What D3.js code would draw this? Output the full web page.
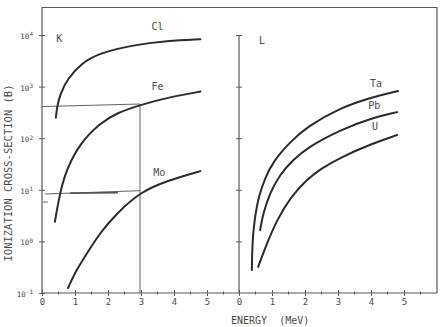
<!DOCTYPE html>
<html>
<head>
<meta charset="utf-8">
<script src="https://cdn.jsdelivr.net/npm/d3@7"></script>
<style>
  body { margin: 0; background: #fff; }
  svg { display: block; }
</style>
</head>
<body>
<div id="chart"></div>
<script>
// K-shell curves (left panel): energy in MeV, cross-section in barns
const clEnergy = [0.42, 0.46, 0.55, 0.76, 1.24, 1.76, 2.76, 3.79, 4.8];
const clSigma  = [250, 420, 700, 1400, 3000, 4500, 6400, 7700, 8300];
const feEnergy = [0.39, 0.5, 0.6, 0.76, 1.15, 1.76, 2.27, 2.97, 3.79, 4.8];
const feSigma  = [2.4, 6, 12, 26, 80, 196, 310, 440, 610, 800];
const moEnergy = [0.79, 1.0, 1.24, 1.76, 2.27, 2.97, 3.79, 4.8];
const moSigma  = [0.125, 0.25, 0.44, 1.5, 3.5, 9, 15, 23];

// L-shell curves (right panel)
const taEnergy = [0.39, 0.4, 0.43, 0.5, 0.6, 0.79, 1.03, 1.55, 2.06, 3.06, 4.06, 4.82];
const taSigma  = [0.28, 0.7, 1.5, 3.5, 7.5, 17, 35, 85, 166, 390, 630, 820];
const pbEnergy = [0.64, 0.73, 0.94, 1.24, 1.64, 2.06, 3.06, 4.06, 4.79];
const pbSigma  = [1.66, 3.5, 8.7, 20, 38, 65, 145, 250, 320];
const uEnergy  = [0.58, 0.85, 1.15, 1.55, 2.06, 2.5, 3.06, 4.06, 4.79];
const uSigma   = [0.32, 0.93, 2.6, 7, 16, 26, 42, 80, 115];

// reading lines drawn on the K panel (energy, sigma)
const guideFe  = [[0, 410], [2.97, 460], [2.97, 0.1]];
const guideMo  = [[0.09, 8.3], [2.97, 9.6]];
const guideMo2 = [[0.85, 8.6], [2.3, 8.8]];
const guideMo3 = [[0.03, 5.8], [0.18, 5.8]];

const xTicks = [0, 1, 2, 3, 4, 5];
const xMinor = [0.5, 1.5, 2.5, 3.5, 4.5, 5.5];
const yTicks = [0.1, 1, 10, 100, 1000, 10000];
const yExp   = ["-1", "0", "1", "2", "3", "4"];

// curve names with label anchor (energy, sigma)
const kNames = [["Cl", 3.5, 14300], ["Fe", 3.5, 1020], ["Mo", 3.55, 22]];
const lNames = [["Ta", 4.15, 1170], ["Pb", 4.1, 435], ["U", 4.12, 166]];

const width = 446, height = 327;
const frameTop = 7.5;
const font = "'DejaVu Sans Mono', monospace";
const ink = "#2b2b2b", axisInk = "#5a5a5a", textInk = "#4a4a4a";

const xK = d3.scaleLinear().domain([0, 6]).range([42, 240]);
const xL = d3.scaleLinear().domain([0, 6]).range([239, 437]);
const y = d3.scaleLog().domain([0.1, 10000]).range([293, 35]);

const svg = d3.select("#chart").append("svg")
    .attr("width", width)
    .attr("height", height)
    .attr("viewBox", [0, 0, width, height]);

// frame
svg.append("path")
    .attr("d", `M${xK(0)},${y(0.1)}V${frameTop}H${xL(6)}V${y(0.1)}`)
    .attr("fill", "none")
    .attr("stroke", axisInk)
    .attr("stroke-width", 1.2);

// x axes
function xAxis(g, x) {
  g.attr("transform", `translate(0,${y(0.1)})`)
    .call(d3.axisBottom(x).tickValues(xTicks).tickSize(3).tickFormat(d3.format("d")))
    .call(g => g.select(".domain").remove())
    .call(g => g.selectAll(".tick line").attr("y1", -3).attr("stroke", axisInk))
    .call(g => g.selectAll(".tick text")
        .attr("y", 6)
        .attr("font-family", font)
        .attr("font-size", 9)
        .attr("fill", textInk));
  g.selectAll(".minor")
    .data(xMinor)
    .join("line")
      .attr("class", "minor")
      .attr("x1", d => x(d)).attr("x2", d => x(d))
      .attr("y1", -1.5).attr("y2", 1.5)
      .attr("stroke", axisInk);
}
svg.append("line")
    .attr("x1", xK(0)).attr("x2", xL(6))
    .attr("y1", y(0.1)).attr("y2", y(0.1))
    .attr("stroke", axisInk).attr("stroke-width", 1.2);
svg.append("g").call(xAxis, xK);
svg.append("g").call(xAxis, xL);

// left y axis with labels
const yAxisK = svg.append("g")
    .attr("transform", `translate(${xK(0)},0)`)
    .call(d3.axisLeft(y).tickValues(yTicks).tickSize(3).tickFormat(""))
    .call(g => g.select(".domain").remove())
    .call(g => g.selectAll(".tick line").attr("x1", 3).attr("stroke", axisInk));
yAxisK.selectAll(".tick text").remove();
yAxisK.selectAll(".tick").append("text")
    .attr("x", -9)
    .attr("dy", "0.35em")
    .attr("text-anchor", "end")
    .attr("font-family", font)
    .attr("fill", textInk)
    .each(function(d, i) {
      const t = d3.select(this);
      t.append("tspan").attr("font-size", 7.5).text("10");
      t.append("tspan").attr("font-size", 6).attr("dy", "-0.45em").text(yExp[i]);
    });

// right panel y axis (no labels)
svg.append("line")
    .attr("x1", xL(0)).attr("x2", xL(0))
    .attr("y1", y(0.1)).attr("y2", y(10000))
    .attr("stroke", axisInk).attr("stroke-width", 1.2);
svg.append("g")
    .attr("transform", `translate(${xL(0)},0)`)
    .call(d3.axisRight(y).tickValues(yTicks.slice(1)).tickSize(3).tickFormat(""))
    .call(g => g.select(".domain").remove())
    .call(g => g.selectAll(".tick line").attr("x1", -3).attr("stroke", axisInk));

// guide lines
const guide = d3.line().x(d => xK(d[0])).y(d => y(d[1]));
[guideFe, guideMo, guideMo3].forEach(pts => {
  svg.append("path")
      .attr("d", guide(pts))
      .attr("fill", "none")
      .attr("stroke", "#666")
      .attr("stroke-width", 1);
});
svg.append("path")
    .attr("d", guide(guideMo2))
    .attr("fill", "none")
    .attr("stroke", "#555")
    .attr("stroke-width", 1.8);

// curves
function curve(x, es, vs) {
  const line = d3.line()
      .x(d => x(d[0]))
      .y(d => y(d[1]))
      .curve(d3.curveBasis);
  svg.append("path")
      .attr("d", line(d3.zip(es, vs)))
      .attr("fill", "none")
      .attr("stroke", ink)
      .attr("stroke-width", 2)
      .attr("stroke-linecap", "round");
}
curve(xK, clEnergy, clSigma);
curve(xK, feEnergy, feSigma);
curve(xK, moEnergy, moSigma);
curve(xL, taEnergy, taSigma);
curve(xL, pbEnergy, pbSigma);
curve(xL, uEnergy, uSigma);

// curve names
function names(x, list) {
  svg.append("g").selectAll("text")
    .data(list)
    .join("text")
      .attr("x", d => x(d[1]))
      .attr("y", d => y(d[2]))
      .attr("dy", "0.35em")
      .attr("text-anchor", "middle")
      .attr("font-family", font)
      .attr("font-size", 10)
      .attr("fill", textInk)
      .text(d => d[0]);
}
names(xK, kNames);
names(xL, lNames);

// panel labels
svg.append("text")
    .attr("x", xK(0.52)).attr("y", y(8700)).attr("dy", "0.35em")
    .attr("text-anchor", "middle")
    .attr("font-family", font).attr("font-size", 10).attr("fill", textInk)
    .text("K");
svg.append("text")
    .attr("x", xL(0.7)).attr("y", y(7900)).attr("dy", "0.35em")
    .attr("text-anchor", "middle")
    .attr("font-family", font).attr("font-size", 10).attr("fill", textInk)
    .text("L");

// axis titles
svg.append("text")
    .attr("transform", `translate(8,173) rotate(-90)`)
    .attr("dy", "0.35em")
    .attr("text-anchor", "middle")
    .attr("font-family", font).attr("font-size", 10.5).attr("fill", textInk)
    .text("IONIZATION CROSS-SECTION (B)");
svg.append("text")
    .attr("x", 231).attr("y", 320).attr("dy", "0.35em")
    .attr("font-family", font).attr("font-size", 10).attr("fill", textInk)
    .style("white-space", "pre")
    .text("ENERGY  (MeV)");
</script>
</body>
</html>
